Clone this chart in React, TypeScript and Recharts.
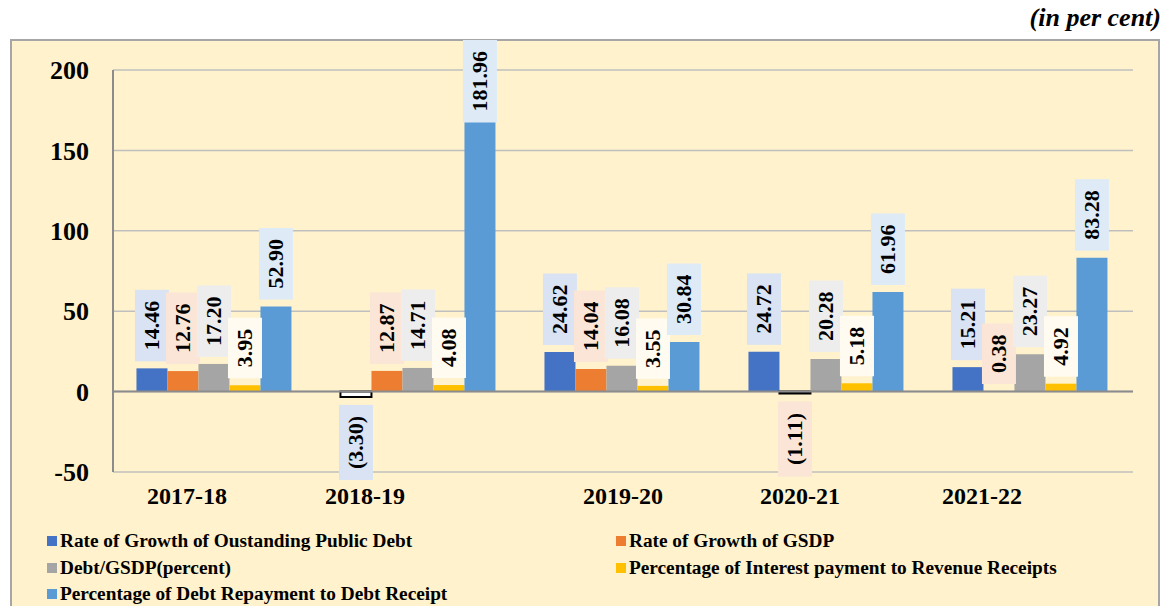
import { BarChart, Bar, XAxis, YAxis, CartesianGrid, ReferenceLine, Legend, LabelList, Cell } from "recharts";

const years = ["2017-18", "2018-19", "2019-20", "2020-21", "2021-22"];
const debtGrowth = [14.46, -3.3, 24.62, 24.72, 15.21];
const gsdpGrowth = [12.76, 12.87, 14.04, -1.11, 0.38];
const debtToGsdp = [17.2, 14.71, 16.08, 20.28, 23.27];
const interestToRevenue = [3.95, 4.08, 3.55, 5.18, 4.92];
const repaymentToReceipt = [52.9, 181.96, 30.84, 61.96, 83.28];
const yTicks = [-50, 0, 50, 100, 150, 200];

const seriesNames = [
  "Rate of Growth of Oustanding Public Debt",
  "Rate of Growth of GSDP",
  "Debt/GSDP(percent)",
  "Percentage of Interest payment to Revenue Receipts",
  "Percentage of Debt Repayment to Debt Receipt",
];
const seriesKeys = ["debt", "gsdp", "ratio", "interest", "repay"];
const colors = ["#4472C4", "#ED7D31", "#A5A5A5", "#FFC000", "#5B9BD5"];
const boxColors = ["#DAE3F3", "#FBE5D6", "#EDEDED", "#FFFBF0", "#DEEBF7"];

const data = years.map((year, i) => ({
  year,
  debt: debtGrowth[i],
  gsdp: gsdpGrowth[i],
  ratio: debtToGsdp[i],
  interest: interestToRevenue[i],
  repay: repaymentToReceipt[i],
}));

const FONT = "'Liberation Serif', 'Times New Roman', serif";
const LABEL_SIZE = 22;
// x-label shifts as they sit in the original
const xShift = [-28, -54, 0, -27, -49];

function fmt(v: number) {
  const s = Math.abs(v).toFixed(2);
  return v < 0 ? `(${s})` : s;
}

function textLen(s: string) {
  let w = 0;
  for (const c of s) w += c === "." ? 0.25 : c === "(" || c === ")" ? 0.333 : 0.5;
  return w * LABEL_SIZE;
}

const makeLabel = (si: number) => (props: any) => {
  const { x, y, width, height, value } = props;
  const v = Number(value);
  const txt = fmt(v);
  const top = Math.min(y, y + height);
  const bottom = Math.max(y, y + height);
  const bw = 34;
  const bh = textLen(txt) + 22;
  let by = v >= 0 ? top - 7 - bh : bottom + 8;
  if (by < 40) by = 40;
  const cx = x + width / 2;
  const cy = by + bh / 2;
  return (
    <g>
      <rect x={cx - bw / 2} y={by} width={bw} height={bh} fill={boxColors[si]} />
      <text
        x={cx}
        y={cy}
        transform={`rotate(-90 ${cx} ${cy})`}
        textAnchor="middle"
        dominantBaseline="central"
        fontFamily={FONT}
        fontWeight="bold"
        fontSize={LABEL_SIZE}
        fill="#000"
      >
        {txt}
      </text>
    </g>
  );
};

const YTick = (props: any) => {
  const { x, y, payload } = props;
  return (
    <text x={x} y={y} dy="0.35em" textAnchor="end" fontFamily={FONT} fontWeight="bold" fontSize={26} fill="#000">
      {payload.value}
    </text>
  );
};

const XTick = (props: any) => {
  const { x, y, payload, index } = props;
  return (
    <text x={x + xShift[index]} y={y} dy={24} textAnchor="middle" fontFamily={FONT} fontWeight="bold" fontSize={24} fill="#000">
      {payload.value}
    </text>
  );
};

const LegendBox = () => {
  const pos = [
    [47, 0],
    [616, 0],
    [47, 26.5],
    [616, 26.5],
    [47, 53],
  ];
  return (
    <div style={{ position: "relative", width: 1167, height: 84, fontFamily: FONT, fontWeight: "bold", fontSize: 19.3 }}>
      {seriesNames.map((name, i) => (
        <div key={name} style={{ position: "absolute", left: pos[i][0], top: pos[i][1], display: "flex", alignItems: "center", height: 26, whiteSpace: "nowrap" }}>
          <span style={{ width: 10, height: 10, background: colors[i], marginRight: 3, display: "inline-block" }} />
          <span>{name}</span>
        </div>
      ))}
    </div>
  );
};

export default function App() {
  return (
    <div style={{ position: "fixed", left: 0, top: 0, width: 1167, height: 606, overflow: "hidden", background: "#fff" }}>
      <div
        style={{
          position: "absolute",
          left: 10,
          top: 39,
          width: 1150,
          height: 620,
          boxSizing: "border-box",
          border: "2px solid #A6A6A6",
          background: "#FFF2CC",
        }}
      />
      <div
        style={{
          position: "absolute",
          right: 6,
          top: 3,
          fontFamily: FONT,
          fontWeight: "bold",
          fontStyle: "italic",
          fontSize: 26,
        }}
      >
        (in per cent)
      </div>
      <div style={{ position: "absolute", left: 0, top: 0 }}>
        <BarChart
          width={1167}
          height={640}
          data={data}
          margin={{ top: 70, right: 34, left: 0, bottom: 34 }}
          barCategoryGap="11.5%"
          barGap={0}
        >
          <CartesianGrid vertical={false} stroke="#BFBFBF" strokeWidth={1.5} />
          <XAxis dataKey="year" axisLine={false} tickLine={false} height={50} tick={<XTick />} interval={0} />
          <YAxis
            domain={[-50, 200]}
            ticks={yTicks}
            width={113}
            tickLine={false}
            tickSize={0}
            tickMargin={24}
            axisLine={{ stroke: "#8C8C8C", strokeWidth: 2 }}
            tick={<YTick />}
            allowDataOverflow
          />
          <ReferenceLine y={0} stroke="#8C8C8C" strokeWidth={2} />
          <Legend content={<LegendBox />} wrapperStyle={{ left: 0, top: 528, width: 1167 }} />
          {seriesKeys.map((k, si) => (
            <Bar key={k} dataKey={k} name={seriesNames[si]} fill={colors[si]} isAnimationActive={false}>
              {data.map((d: any, i) => (
                <Cell
                  key={i}
                  fill={d[k] < 0 ? "#FFFFFF" : colors[si]}
                  stroke={d[k] < 0 ? "#000" : "none"}
                  strokeWidth={d[k] < 0 ? 2 : 0}
                />
              ))}
              <LabelList dataKey={k} content={makeLabel(si)} />
            </Bar>
          ))}
        </BarChart>
      </div>
    </div>
  );
}
